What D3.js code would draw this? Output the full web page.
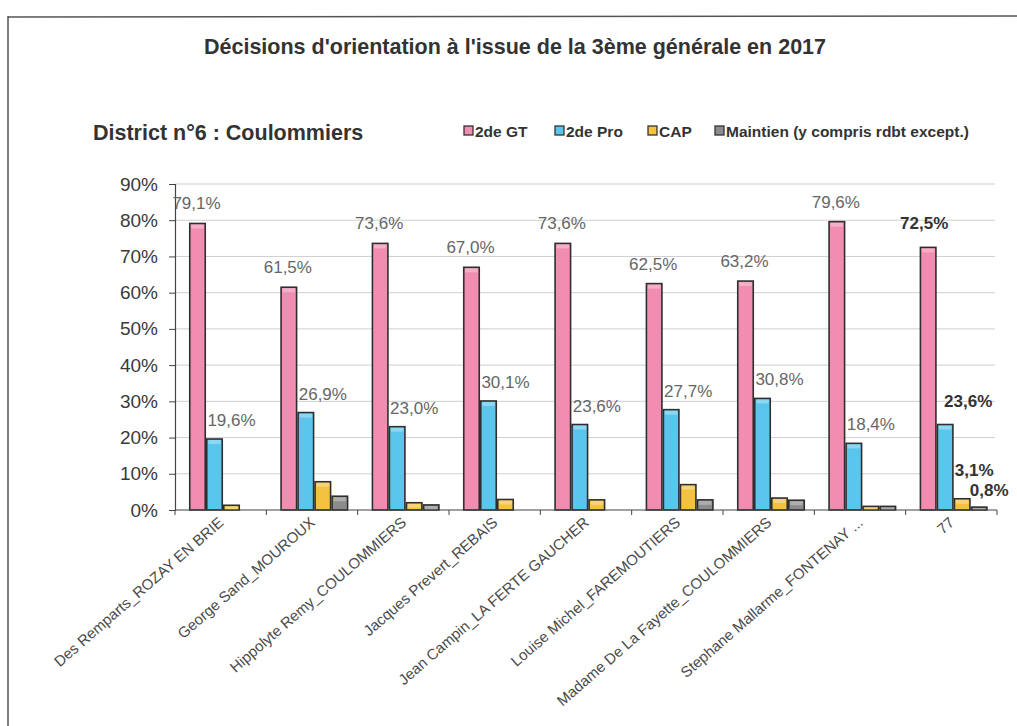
<!DOCTYPE html>
<html><head><meta charset="utf-8">
<script src="https://cdn.jsdelivr.net/npm/d3@7"></script>
<style>body{margin:0;background:#fff}svg{display:block}text{font-family:"Liberation Sans",Arial,sans-serif}</style>
</head><body>
<svg id="c" width="1017" height="726"></svg>
<script>
const categories = ["Des Remparts_ROZAY EN BRIE","George Sand_MOUROUX","Hippolyte Remy_COULOMMIERS","Jacques Prevert_REBAIS","Jean Campin_LA FERTE GAUCHER","Louise Michel_FAREMOUTIERS","Madame De La Fayette_COULOMMIERS","Stephane Mallarme_FONTENAY ...","77"];
const seriesNames = ["2de GT","2de Pro","CAP","Maintien (y compris rdbt except.)"];
const gt = [0.791,0.615,0.736,0.670,0.736,0.625,0.632,0.796,0.725];
const pro = [0.196,0.269,0.230,0.301,0.236,0.277,0.308,0.184,0.236];
const cap = [0.013,0.078,0.020,0.029,0.028,0.070,0.033,0.010,0.031];
const maintien = [0.000,0.038,0.014,0.000,0.000,0.028,0.027,0.010,0.008];
const yTicks = [0,0.1,0.2,0.3,0.4,0.5,0.6,0.7,0.8,0.9];
const title = "Décisions d'orientation à l'issue de la 3ème générale en 2017";
const subtitle = "District n°6 : Coulommiers";

const colors = ["#f08db1","#5bc6ec","#f4c23e","#8c8c8c"];
const series = [gt, pro, cap, maintien];
const svg = d3.select("#c");
const fmt = v => d3.format(".1f")(v*100).replace(".", ",") + "%";

// frame
svg.append("line").attr("x1",8).attr("x2",1017).attr("y1",17).attr("y2",16).attr("stroke","#555").attr("stroke-width",1.5);
svg.append("line").attr("x1",8).attr("x2",8).attr("y1",16).attr("y2",726).attr("stroke","#555").attr("stroke-width",1.5);

svg.append("text").attr("x",515).attr("y",54).attr("text-anchor","middle").attr("font-size",21.5).attr("font-weight","bold").attr("fill","#333").text(title);
svg.append("text").attr("x",93).attr("y",140).attr("font-size",21.5).attr("font-weight","bold").attr("fill","#333").text(subtitle);

const x0 = d3.scaleBand().domain(categories).range([175, 997]);
const x1 = d3.scaleBand().domain(seriesNames).range([14, 82]);
const y = d3.scaleLinear().domain([0, 0.9]).range([510, 184]);

// grid
svg.append("g").selectAll("line").data(yTicks.slice(1)).join("line")
  .attr("x1",175).attr("x2",995).attr("y1",d=>y(d)).attr("y2",d=>y(d))
  .attr("stroke","#cfcfcf").attr("stroke-width",1);

// y axis
const ya = svg.append("g").attr("transform","translate(175,0)")
  .call(d3.axisLeft(y).tickValues(yTicks).tickFormat(d=>Math.round(d*100)+"%").tickSize(6).tickPadding(11));
ya.select(".domain").attr("stroke","#444").attr("stroke-width",1.2);
ya.selectAll(".tick line").attr("stroke","#444");
ya.selectAll("text").attr("font-size",19).attr("fill","#3a3a3a").attr("font-family","'Liberation Sans',Arial,sans-serif");

// bars
const groups = svg.append("g").selectAll("g").data(categories).join("g")
  .attr("transform", d => `translate(${x0(d)},0)`);
groups.each(function(c, i){
  const g = d3.select(this);
  series.forEach((s, k) => {
    const v = s[i];
    if (v <= 0) return;
    const bx = x1(seriesNames[k]) + 0.75, bw = x1.bandwidth() - 1.5;
    g.append("rect").attr("x", bx).attr("y", y(v)).attr("width", bw).attr("height", y(0) - y(v))
      .attr("fill", colors[k]).attr("stroke","#2f2f2f").attr("stroke-width",1.6);
    const hh = Math.min(4, y(0)-y(v)-1);
    if (hh > 1) g.append("rect").attr("x", bx+1.5).attr("y", y(v)+1).attr("width", bw-3).attr("height", hh)
      .attr("fill","#fff").attr("opacity",0.3);
  });
});

// x axis
svg.append("line").attr("x1",175).attr("x2",997).attr("y1",y(0)).attr("y2",y(0)).attr("stroke","#444").attr("stroke-width",1.2);
svg.append("g").selectAll("line").data(categories.concat(["end"])).join("line")
  .attr("x1",(d,i)=> i<categories.length ? x0(d) : 997).attr("x2",(d,i)=> i<categories.length ? x0(d) : 997)
  .attr("y1",y(0)).attr("y2",y(0)+5).attr("stroke","#444");

// x labels
svg.append("g").selectAll("text").data(categories).join("text")
  .attr("transform", d => `translate(${x0(d)+x0.bandwidth()/2+4},${y(0)+14}) rotate(-41)`)
  .attr("text-anchor","end").attr("font-size",15).attr("fill","#4a4a4a").text(d=>d);

// data labels
const last = categories.length - 1;
svg.append("g").selectAll("text").data(gt).join("text")
  .attr("x",(d,i)=>x0(categories[i])+x1(seriesNames[0])+x1.bandwidth()/2+(i===last?-4:-1))
  .attr("y",(d,i)=>y(d)-(i===last?18:14)).attr("text-anchor","middle").attr("font-size",17)
  .attr("font-weight",(d,i)=>i===last?"bold":"normal").attr("fill",(d,i)=>i===last?"#333":"#666").text(fmt);
svg.append("g").selectAll("text").data(pro).join("text")
  .attr("x",(d,i)=>x0(categories[i])+x1(seriesNames[1])+x1.bandwidth()/2+(i===last?23:17))
  .attr("y",(d,i)=>y(d)-(i===last?18:13)).attr("text-anchor","middle").attr("font-size",17)
  .attr("font-weight",(d,i)=>i===last?"bold":"normal").attr("fill",(d,i)=>i===last?"#333":"#666").text(fmt);
svg.append("text").attr("x",x0(categories[last])+x1(seriesNames[2])+x1.bandwidth()/2+12).attr("y",y(cap[last])-23)
  .attr("text-anchor","middle").attr("font-size",17).attr("font-weight","bold").attr("fill","#333").text(fmt(cap[last]));
svg.append("text").attr("x",x0(categories[last])+x1(seriesNames[3])+x1.bandwidth()/2+10).attr("y",y(maintien[last])-11)
  .attr("text-anchor","middle").attr("font-size",17).attr("font-weight","bold").attr("fill","#333").text(fmt(maintien[last]));

// legend
const legX = [464, 555, 648, 715];
const leg = svg.append("g").selectAll("g").data(seriesNames).join("g").attr("transform",(d,i)=>`translate(${legX[i]},126)`);
leg.append("rect").attr("x",0).attr("y",0).attr("width",9).attr("height",9).attr("fill",(d,i)=>colors[i]).attr("stroke","#333").attr("stroke-width",1.3);
leg.append("text").attr("x",11).attr("y",11).attr("font-size",15.5).attr("font-weight","bold").attr("fill","#333").text(d=>d);
</script>
</body></html>
